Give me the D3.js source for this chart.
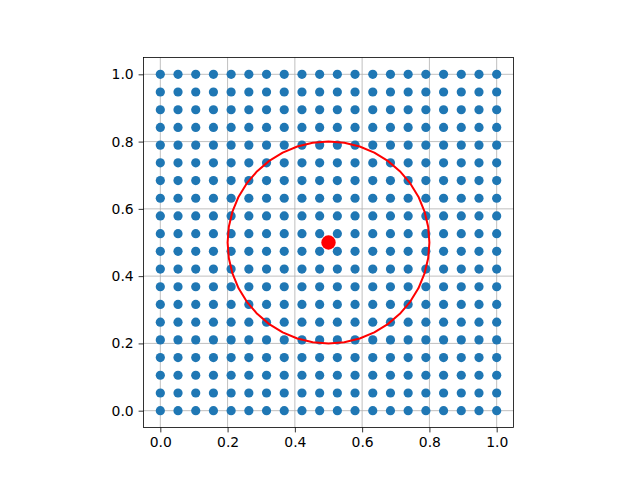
<!DOCTYPE html>
<html><head><meta charset="utf-8">
<script src="https://cdn.jsdelivr.net/npm/d3@7"></script>
<style>body{margin:0;background:#fff}svg{display:block}</style>
</head><body>
<script>
const gridValues = [0, 0.0526, 0.1053, 0.1579, 0.2105, 0.2632, 0.3158, 0.3684, 0.4211, 0.4737, 0.5263, 0.5789, 0.6316, 0.6842, 0.7368, 0.7895, 0.8421, 0.8947, 0.9474, 1];
const centerPoint = [0.5, 0.5];
const circleX = [0.8,0.7963,0.7853,0.7673,0.7427,0.7121,0.6763,0.6362,0.5927,0.5469,0.5,0.4531,0.4073,0.3638,0.3237,0.2879,0.2573,0.2327,0.2147,0.2037,0.2,0.2037,0.2147,0.2327,0.2573,0.2879,0.3237,0.3638,0.4073,0.4531,0.5,0.5469,0.5927,0.6362,0.6763,0.7121,0.7427,0.7673,0.7853,0.7963,0.8];
const circleY = [0.5,0.5469,0.5927,0.6362,0.6763,0.7121,0.7427,0.7673,0.7853,0.7963,0.8,0.7963,0.7853,0.7673,0.7427,0.7121,0.6763,0.6362,0.5927,0.5469,0.5,0.4531,0.4073,0.3638,0.3237,0.2879,0.2573,0.2327,0.2147,0.2037,0.2,0.2037,0.2147,0.2327,0.2573,0.2879,0.3237,0.3638,0.4073,0.4531,0.5];
const tickValues = [0, 0.2, 0.4, 0.6, 0.8, 1.0];
const tickLabels = ["0.0","0.2","0.4","0.6","0.8","1.0"];

const W = 640, H = 480;
const L = 143.5, R = 513.5, T = 57.5, B = 427.5;
const svg = d3.select("body").append("svg").attr("width", W).attr("height", H);
const x = d3.scaleLinear().domain([-0.05, 1.05]).range([L, R]);
const y = d3.scaleLinear().domain([-0.05, 1.05]).range([B, T]);

// grid
const g = svg.append("g");
g.selectAll(".gx").data(tickValues).join("line")
  .attr("x1", d => x(d)).attr("x2", d => x(d)).attr("y1", T).attr("y2", B)
  .attr("stroke", "#b0b0b0").attr("stroke-width", 0.8);
g.selectAll(".gy").data(tickValues).join("line")
  .attr("y1", d => y(d)).attr("y2", d => y(d)).attr("x1", L).attr("x2", R)
  .attr("stroke", "#b0b0b0").attr("stroke-width", 0.8);

// points
const pts = [];
gridValues.forEach(a => gridValues.forEach(b => pts.push([a, b])));
svg.append("g").selectAll("circle").data(pts).join("circle")
  .attr("cx", d => x(d[0])).attr("cy", d => y(d[1])).attr("r", 4.6)
  .attr("fill", "#1f77b4");

// circle line
const line = d3.line().x(d => x(d[0])).y(d => y(d[1]));
svg.append("path").datum(circleX.map((v, i) => [v, circleY[i]]))
  .attr("d", line).attr("fill", "none").attr("stroke", "red").attr("stroke-width", 2)
  .attr("stroke-linejoin", "round");

// center
svg.append("circle").attr("cx", x(centerPoint[0])).attr("cy", y(centerPoint[1]))
  .attr("r", 7.2).attr("fill", "red");

// axes
const fmt = (d) => tickLabels[tickValues.indexOf(d)];
const xa = svg.append("g").attr("transform", `translate(0,${B})`)
  .call(d3.axisBottom(x).tickValues(tickValues).tickFormat(fmt).tickSize(4.9).tickPadding(4.9));
const ya = svg.append("g").attr("transform", `translate(${L},0)`)
  .call(d3.axisLeft(y).tickValues(tickValues).tickFormat(fmt).tickSize(4.9).tickPadding(4.9));
[xa, ya].forEach(a => {
  a.select(".domain").remove();
  a.selectAll("line").attr("stroke", "#000").attr("stroke-width", 0.8);
  a.selectAll("text").attr("font-family", "DejaVu Sans").attr("font-size", 13.9).attr("fill", "#000");
});
svg.append("rect").attr("x", L).attr("y", T).attr("width", R - L).attr("height", B - T)
  .attr("fill", "none").attr("stroke", "#000").attr("stroke-width", 0.8);
</script>
</body></html>
